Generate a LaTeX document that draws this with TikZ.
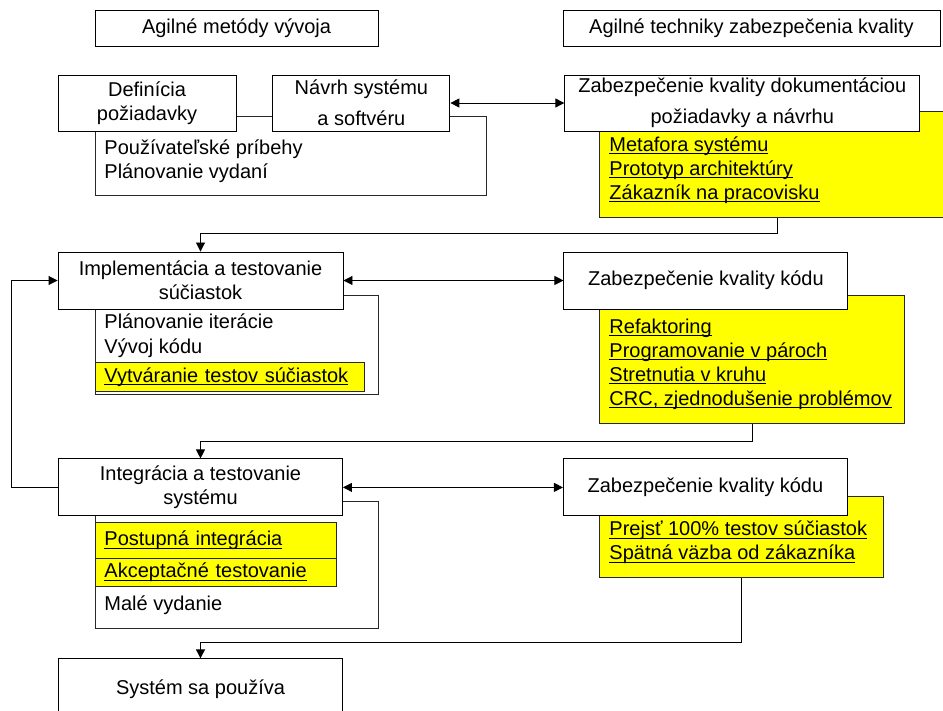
\documentclass[tikz,border=0pt]{standalone}
\usepackage{fontspec}
\setmainfont{Liberation Sans}
\usepackage{tikz}
\usetikzlibrary{positioning,arrows.meta}
\definecolor{marker}{RGB}{255,255,0}
\definecolor{edgegray}{RGB}{40,40,40}
\tikzstyle{heading} = [rectangle, minimum width=141.5pt, minimum height=18pt, draw=black, fill=white]
\tikzstyle{stage} = [rectangle, minimum width=142pt, minimum height=28.5pt, draw=black, fill=white, align=center, inner xsep=3pt, inner ysep=1pt]
\tikzstyle{groupbox} = [draw=edgegray]
\tikzstyle{hilite} = [rectangle, anchor=north west, draw=edgegray, fill=marker, inner sep=0pt]
\tikzstyle{tag} = [rectangle, anchor=north west, draw=edgegray, fill=marker, align=left, inner xsep=4.5pt, inner ysep=0pt]
\tikzstyle{items} = [anchor=west, align=left, inner sep=0pt]
\tikzstyle{arrow} = [->]
\tikzstyle{biarrow} = [<->]
\newsavebox{\techbox}
\newcommand{\tech}[1]{\sbox{\techbox}{#1}\rlap{\rule[-1.4pt]{\wd\techbox}{0.5pt}}\usebox{\techbox}}

\begin{document}
\begin{tikzpicture}[x=0.5pt, y=-0.5pt, line width=0.45pt, >={Triangle[length=4.5pt,width=4.5pt]}]
\useasboundingbox (0,0) rectangle (943,711);
\clip (0,0) rectangle (943,711);
% column headings
\node (methods) [heading] at (236.5,28) {Agilné metódy vývoja};
\node (techniques) [heading, minimum width=188.5pt] at (751.5,28) {Agilné techniky zabezpečenia kvality};
% outlines behind the stages
\draw[groupbox] (95,116) rectangle (486,195);
\draw[groupbox] (95,295) rectangle (378,394);
\draw[groupbox] (95,501) rectangle (378,628);
% yellow boxes behind the QA boxes
\node (docpract) [hilite, minimum width=178pt, minimum height=53pt] at (599,111) {};
\node (codepract) [hilite, minimum width=152.5pt, minimum height=64pt] at (599,295) {};
\node (testpract) [hilite, minimum width=142pt, minimum height=40.5pt] at (599,496) {};
% development stages
\node (defn) [stage, minimum width=89pt, minimum height=28pt] at (147,103) {Definícia\\požiadavky};
\node (design) [stage, minimum width=88.5pt, minimum height=28pt, right=18pt of defn] {Návrh systému\\[3.5pt]a softvéru};
\node (impl) [stage, minimum width=142.5pt] at (200.5,280.5) {Implementácia a testovanie\\súčiastok};
\node (integ) [stage, below=74.5pt of impl] {Integrácia a testovanie\\systému};
\node (usage) [stage, minimum height=30pt, below=71pt of integ] {Systém sa používa};
% quality assurance
\node (docqa) [stage, minimum width=177.5pt, minimum height=28pt, right=57pt of design] {Zabezpečenie kvality dokumentáciou\\[3.5pt]požiadavky a návrhu};
\node (codeqa) [stage, right=110pt of impl] {Zabezpečenie kvality kódu};
\node (testqa) [stage, right=110pt of integ] {Zabezpečenie kvality kódu};
% practices
\node (storyitems) [items] at (104,161) {Používateľské príbehy\\Plánovanie vydaní};
\node (iteritems) [items] at (104,335.5) {Plánovanie iterácie\\[0.5pt]Vývoj kódu};
\node (unittests) [tag, text width=125.5pt, minimum height=14.5pt] at (95,362) {\tech{Vytváranie testov súčiastok}};
\node (stepinteg) [tag, text width=111.5pt, minimum height=18pt] at (95,522) {\tech{Postupná integrácia}};
\node (accept) [tag, text width=111.5pt, minimum height=14pt] at (95,558) {\tech{Akceptačné testovanie}};
\node (release) [items] at (104,605) {Malé vydanie};
\node (docitems) [items] at (609,170) {\tech{Metafora systému}\\\tech{Prototyp architektúry}\\\tech{Zákazník na pracovisku}};
\node (codeitems) [items] at (609,364) {\tech{Refaktoring}\\\tech{Programovanie v pároch}\\\tech{Stretnutia v kruhu}\\\tech{CRC, zjednodušenie problémov}};
\node (testitems) [items] at (609,542.5) {\tech{Prejsť 100\% testov súčiastok}\\\tech{Spätná väzba od zákazníka}};
% connectors
\draw[biarrow] (design.east) -- (docqa.west);
\draw[biarrow] (impl.east) -- (codeqa.west);
\draw[biarrow] (integ.east) -- (testqa.west);
\draw[arrow] (docpract.south) -- ++(0,16) -| (impl.north);
\draw[arrow] (codepract.south) -- ++(0,18) -| (integ.north);
\draw[arrow] (testpract.south) -- ++(0,65) -| (usage.north);
\draw[arrow] (integ.west) -- ++(-47,0) |- (impl.west);
\end{tikzpicture}
\end{document}
